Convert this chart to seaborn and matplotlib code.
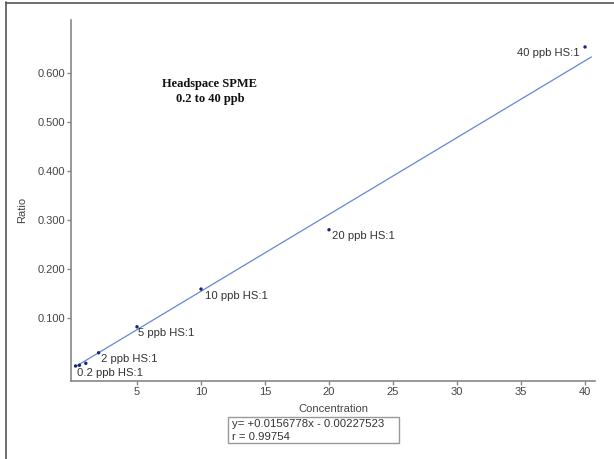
import matplotlib
matplotlib.use("Agg")
import matplotlib.pyplot as plt
import seaborn as sns
import numpy as np
import pandas as pd
from matplotlib.patches import Rectangle
from matplotlib.lines import Line2D

# ---- data ----
concentration = [0.2, 0.5, 1, 2, 5, 10, 20, 40]
ratio = [0.002, 0.0035, 0.0075, 0.029, 0.082, 0.159, 0.280, 0.653]
point_labels = ["0.2 ppb HS:1", "", "", "2 ppb HS:1", "5 ppb HS:1",
                "10 ppb HS:1", "20 ppb HS:1", "40 ppb HS:1"]
slope = 0.0156778
intercept = -0.00227523
r_value = 0.99754
fit_range = [0.2, 40.5]
x_ticks = [5, 10, 15, 20, 25, 30, 35, 40]
y_ticks = [0.1, 0.2, 0.3, 0.4, 0.5, 0.6]

sns.set_theme(style="white")
plt.rcParams['font.family'] = ['Liberation Sans', 'DejaVu Sans']

fig = plt.figure(figsize=(6.14, 4.59), dpi=100)
ax = fig.add_axes([70.7/614, 1-381/459, (595-70.7)/614, (381-20)/459])

df = pd.DataFrame({"Concentration": concentration, "Ratio": ratio})
fit_df = pd.DataFrame({"x": fit_range,
                       "y": [slope*v + intercept for v in fit_range]})

sns.lineplot(data=fit_df, x="x", y="y", ax=ax, color="#6388d4", linewidth=0.9)
sns.scatterplot(data=df, x="Concentration", y="Ratio", ax=ax, color="#1a237e",
                s=6, edgecolor="none", zorder=3)

offsets = {0: (1, -7), 3: (2, -6), 4: (1, -6), 5: (4, -7), 6: (3, -6), 7: (-5, -6)}
for i, lab in enumerate(point_labels):
    if not lab:
        continue
    dx, dy = offsets[i]
    ax.annotate(lab, (concentration[i], ratio[i]), xytext=(dx, dy),
                textcoords="offset pixels", ha="right" if i == 7 else "left",
                va="center", fontsize=8.1, color="#333333")

ax.set_xlim(-0.18, 40.78)
ax.set_ylim(-0.0286, 0.708)
ax.set_xticks(x_ticks)
ax.set_xticklabels([str(t) for t in x_ticks])
ax.set_yticks(y_ticks)
ax.set_yticklabels([f"{t:.3f}" for t in y_ticks])
ax.tick_params(axis="both", direction="out", length=3, width=1, color="#888888",
               labelsize=8, labelcolor="#444444", pad=1)
ax.tick_params(axis="x", bottom=True)
ax.tick_params(axis="y", left=True)

for s in ["top", "right"]:
    ax.spines[s].set_visible(False)
for s in ["left", "bottom"]:
    ax.spines[s].set_color("#888888")
    ax.spines[s].set_linewidth(1.2)

ax.set_xlabel("")
ax.set_ylabel("")
fig.text(333/614, 1-408.5/459, "Concentration", ha="center", va="center",
         fontsize=8, color="#444444")
fig.text(22/614, 1-210/459, "Ratio", ha="center", va="center", rotation=90,
         fontsize=8, color="#444444")

# title-like annotation
fig.text(210/614, 1-84/459, "Headspace SPME", ha="center", va="center",
         fontsize=9, fontweight="bold", family=["Liberation Serif", "DejaVu Serif"],
         color="#111111")
fig.text(210/614, 1-99/459, "0.2 to 40 ppb", ha="center", va="center",
         fontsize=9, fontweight="bold", family=["Liberation Serif", "DejaVu Serif"],
         color="#111111")

# equation box
fig.patches.append(Rectangle((228/614, 1-443/459), (399-228)/614, (443-417)/459,
                             transform=fig.transFigure, fill=False,
                             edgecolor="#999999", linewidth=1))
fig.text(232/614, 1-424/459, f"y= +{slope:.7f}x - {abs(intercept):.8f}",
         ha="left", va="center", fontsize=8.2, color="#333333")
fig.text(232/614, 1-436.5/459, f"r = {r_value:.5f}",
         ha="left", va="center", fontsize=8.2, color="#333333")

# outer frame lines
fig.lines.append(Line2D([6/614, 6/614], [0, 1-2/459], transform=fig.transFigure,
                        color="#555555", linewidth=1.2))
fig.lines.append(Line2D([6/614, 1], [1-2.5/459, 1-2.5/459], transform=fig.transFigure,
                        color="#555555", linewidth=1.2))

fig.savefig("out.png", dpi=100)
